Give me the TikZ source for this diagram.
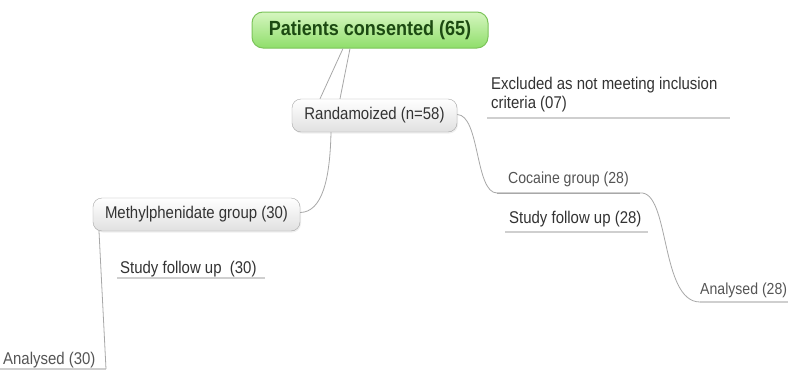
\documentclass[tikz,border=0pt]{standalone}
\usepackage{fontspec}
\setmainfont{Liberation Sans}
\newfontfamily\cf[FakeStretch=0.88]{Liberation Sans}
\usetikzlibrary{shadows}
\definecolor{conncol}{HTML}{A8A8A8}
\definecolor{ulcol}{HTML}{CFCFCF}
\definecolor{txtcol}{HTML}{333333}
\definecolor{lighttxt}{HTML}{555555}
\definecolor{gbord}{HTML}{7CC45A}
\definecolor{gtop}{HTML}{D6F6C0}
\definecolor{gbot}{HTML}{8FDE6B}
\definecolor{gtext}{HTML}{1C4A12}
\begin{document}
\begin{tikzpicture}[x=1pt,y=-1pt,
  conn/.style={draw=conncol,line width=0.8pt},
  uline/.style={draw=ulcol,line width=1.5pt},
  graybox/.style={draw=black!35,rounded corners=9pt,top color=white,bottom color=black!12,
     drop shadow={opacity=0.12,shadow xshift=1pt,shadow yshift=-1.5pt},
     minimum height=33pt,inner sep=0pt,font=\cf\fontsize{17}{19}\selectfont,text=txtcol},
  greenbox/.style={draw=gbord,line width=1pt,rounded corners=11pt,top color=gtop,bottom color=gbot,
     minimum height=36pt,inner sep=0pt,font=\cf\bfseries\fontsize{20.5}{22}\selectfont,text=gtext},
  txt/.style={inner sep=0pt,font=\cf\fontsize{17}{19}\selectfont,text=txtcol,anchor=base west},
  ltxt/.style={txt,font=\cf\fontsize{16}{18}\selectfont,text=lighttxt}
]
\useasboundingbox (0,0) rectangle (788,370);
\fill[white] (0,0) rectangle (788,370);

% boxes
\node[greenbox,minimum width=236pt] (pc) at (370,30) {Patients consented (65)};
\node[graybox,minimum width=165pt] (rand) at (374.5,115.5) {Randamoized (n=58)};
\node[graybox,minimum width=207pt] (meth) at (196.5,214.5) {Methylphenidate group (30)};

% text labels
\node[txt,align=left] (excl) at (491,108) {Excluded as not meeting inclusion\\criteria (07)};
\node[ltxt] (coc) at (508,183) {Cocaine group (28)};
\node[txt] (sf28) at (509,223) {Study follow up (28)};
\node[txt] (sf30) at (120,273) {Study follow up~~(30)};
\node[ltxt] (an28) at (700,294) {Analysed (28)};
\node[ltxt,font=\cf\fontsize{17}{19}\selectfont] (an30) at (3,364) {Analysed (30)};

% underline end points
\coordinate (exA) at (487,118);  \coordinate (exB) at (730,118);
\coordinate (coA) at (497,193);  \coordinate (coB) at (640,193);
\coordinate (s28A) at (505,232); \coordinate (s28B) at (648,232);
\coordinate (s30A) at (117,278); \coordinate (s30B) at (265,278);
\coordinate (a28A) at (700,302); \coordinate (a28B) at (788,302);
\coordinate (a30A) at (0,369);   \coordinate (a30B) at (106,369);

\draw[uline] (exA) -- (exB);
\draw[uline] (s28A) -- (s28B);
\draw[uline] (s30A) -- (s30B);
\draw[uline] (coA) -- (coB);
\draw[uline] (a28A) -- (a28B);
\draw[uline] (a30A) -- (a30B);

% connectors
\draw[conn] ([xshift=-27pt]pc.south) -- ([xshift=-54.5pt]rand.north);
\draw[conn] ([xshift=-20pt]pc.south) -- ([xshift=-34.5pt]rand.north);
\draw[conn] ([yshift=1pt]rand.east) .. controls (480,115) and (475,193) .. (coA);
\draw[conn] (coA) -- (coB);
\draw[conn] (coB) .. controls (670,190) and (660,302) .. (a28A);
\draw[conn] ([xshift=-43.5pt]rand.south) .. controls (330,180) and (322,212) .. ([yshift=2pt]meth.east);
\draw[conn] ([xshift=-97.5pt]meth.south) -- (a30B);
\end{tikzpicture}
\end{document}
